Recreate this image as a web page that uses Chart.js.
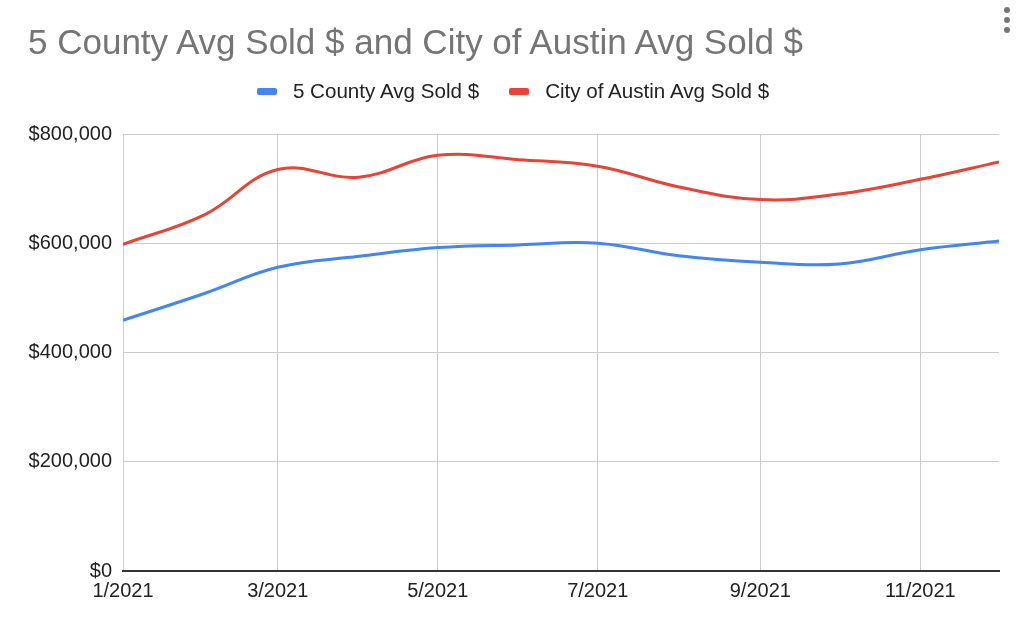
<!DOCTYPE html>
<html lang="en">
<head>
  <meta charset="UTF-8" />
  <title>5 County Avg Sold $ and City of Austin Avg Sold $</title>
  <script src="https://cdn.jsdelivr.net/npm/chart.js@4.4.1/dist/chart.umd.min.js"></script>
  <style>
    html, body {
      margin: 0;
      padding: 0;
      background: #fff;
      font-family: "Liberation Sans", Arial, sans-serif;
    }
    #wrap {
      position: relative;
      width: 1024px;
      height: 629px;
      overflow: hidden;
    }
    #title {
      position: absolute;
      left: 28px;
      top: 24px;
      font-size: 35px;
      line-height: 35px;
      color: #757575;
      white-space: nowrap;
    }
    #legend {
      position: absolute;
      left: 0;
      top: 81px;
      width: 1026px;
      height: 20px;
      display: flex;
      justify-content: center;
      align-items: center;
      font-size: 20.6px;
      line-height: 20px;
      color: #222;
    }
    #legend .item { display: flex; align-items: center; margin: 0 15px; }
    #legend .box { width: 20px; height: 7px; border-radius: 2px; margin-right: 16px; }
    #menu { position: absolute; left: 1004px; top: 7px; }
    #menu span { display: block; width: 6px; height: 6px; border-radius: 3px; background: #757575; margin-bottom: 4px; }
    #chart-container { position: absolute; left: 0; top: 0; width: 1024px; height: 629px; }
  </style>
</head>
<body>
<div id="wrap">
  <div id="chart-container"><canvas id="soldChart"></canvas></div>
  <div id="title">5 County Avg Sold $ and City of Austin Avg Sold $</div>
  <div id="legend"></div>
  <div id="menu"><span></span><span></span><span></span></div>
</div>

<script>
  const months = ['1/2021','2/2021','3/2021','4/2021','5/2021','6/2021',
                  '7/2021','8/2021','9/2021','10/2021','11/2021','12/2021'];
  const labelledMonths = ['1/2021','3/2021','5/2021','7/2021','9/2021','11/2021'];
  const countyLabel = '5 County Avg Sold $';
  const austinLabel = 'City of Austin Avg Sold $';
  const countyAvg = [459000, 508000, 556000, 576000, 592000, 597000,
                     600000, 577000, 565000, 562000, 588000, 604000];
  const austinAvg = [598000, 652000, 735000, 721000, 761000, 753000,
                     741000, 703000, 680000, 690000, 717000, 749000];
  const yTicks = [0, 200000, 400000, 600000, 800000];

  // date axis: days since Jan 1 for the first of each month
  const dayOf = m => {
    const [mo, yr] = m.split('/').map(Number);
    return Math.round((Date.UTC(yr, mo - 1, 1) - Date.UTC(2021, 0, 1)) / 86400000);
  };
  const monthDays = months.map(dayOf);

  const blue = '#4285F4';
  const red = '#EA4335';

  const datasets = [
    { label: countyLabel, data: countyAvg.map((v, i) => ({ x: monthDays[i], y: v })), borderColor: blue },
    { label: austinLabel, data: austinAvg.map((v, i) => ({ x: monthDays[i], y: v })), borderColor: red }
  ].map(d => Object.assign(d, {
    backgroundColor: d.borderColor,
    borderWidth: 3,
    pointRadius: 0,
    pointHoverRadius: 0,
    tension: 0.4,
    fill: false
  }));

  // legend as html text
  const legend = document.getElementById('legend');
  datasets.forEach(d => {
    const item = document.createElement('div');
    item.className = 'item';
    item.innerHTML = `<div class="box" style="background:${d.borderColor}"></div><span>${d.label}</span>`;
    legend.appendChild(item);
  });

  const tickFont = { family: '"Liberation Sans", Arial, sans-serif', size: 20 };

  new Chart(document.getElementById('soldChart').getContext('2d'), {
    type: 'line',
    data: { datasets },
    options: {
      responsive: true,
      maintainAspectRatio: false,
      animation: false,
      layout: { padding: { top: 134, right: 25, left: 0, bottom: 0 } },
      plugins: { legend: { display: false }, tooltip: { enabled: false } },
      scales: {
        x: {
          type: 'linear',
          min: monthDays[0],
          max: monthDays[monthDays.length - 1],
          afterBuildTicks: scale => {
            scale.ticks = labelledMonths.map(m => ({ value: dayOf(m) }));
          },
          afterFit: scale => { scale.height = 58; },
          ticks: {
            autoSkip: false,
            maxRotation: 0,
            padding: 8,
            color: '#222',
            font: tickFont,
            callback: value => months[monthDays.indexOf(value)] || ''
          },
          grid: { color: '#cccccc', lineWidth: 1, drawTicks: false },
          border: { display: true, color: '#333333', width: 2 }
        },
        y: {
          min: yTicks[0],
          max: yTicks[yTicks.length - 1],
          afterBuildTicks: scale => {
            scale.ticks = yTicks.map(v => ({ value: v }));
          },
          afterFit: scale => { scale.width = 123; },
          ticks: {
            padding: 11,
            color: '#222',
            font: tickFont,
            callback: value => '$' + value.toLocaleString('en-US')
          },
          grid: { color: '#cccccc', lineWidth: 1, drawTicks: false },
          border: { display: false }
        }
      }
    }
  });
</script>
</body>
</html>
